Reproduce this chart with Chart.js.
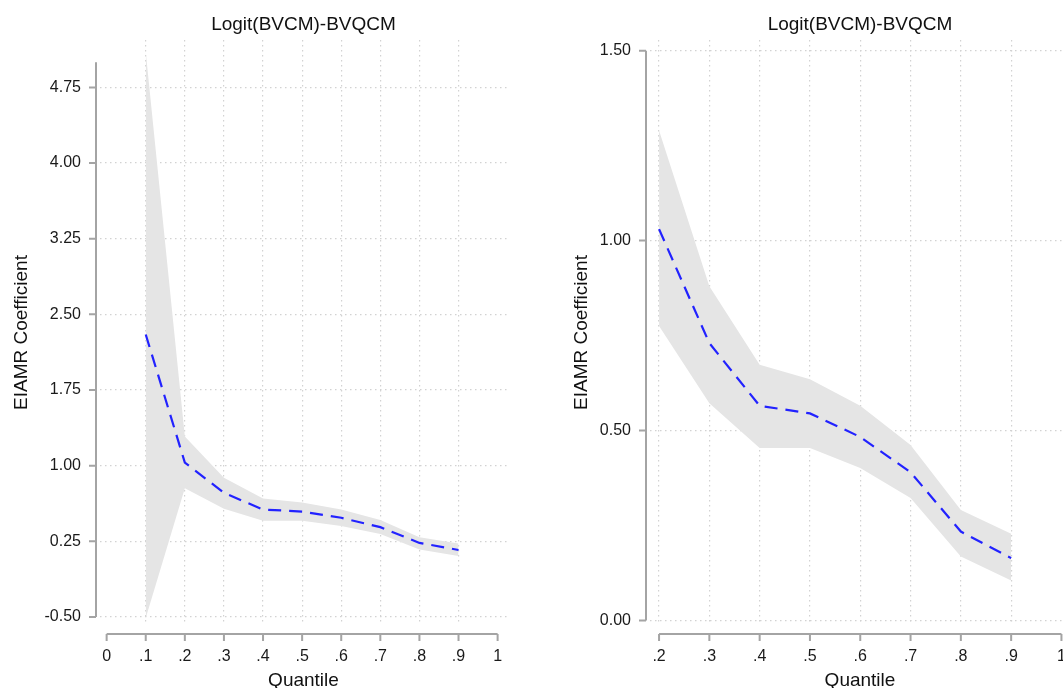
<!DOCTYPE html>
<html>
<head>
<meta charset="utf-8">
<script src="https://cdn.jsdelivr.net/npm/chart.js@4.4.0/dist/chart.umd.min.js"></script>
<style>
  html, body { margin:0; padding:0; background:#fff; overflow:hidden; width:1063px; height:688px; }
  .panel { position:absolute; top:0; }
</style>
</head>
<body>
<div class="panel" style="left:0px"><canvas id="left" width="530" height="688"></canvas></div>
<div class="panel" style="left:545px"><canvas id="right" width="545" height="688"></canvas></div>
<script>
// values (same estimates in both panels, right one starts at .2)
const quantiles = [0.1, 0.2, 0.3, 0.4, 0.5, 0.6, 0.7, 0.8, 0.9];
const coef  = [2.30, 1.03, 0.73, 0.565, 0.545, 0.483, 0.39, 0.234, 0.164];
const upper = [5.10, 1.29, 0.88, 0.673, 0.635, 0.565, 0.462, 0.291, 0.228];
const lower = [-0.51, 0.775, 0.572, 0.454, 0.454, 0.401, 0.322, 0.168, 0.105];

const xTicksLeft  = [0, 0.1, 0.2, 0.3, 0.4, 0.5, 0.6, 0.7, 0.8, 0.9, 1];
const yTicksLeft  = [-0.5, 0.25, 1, 1.75, 2.5, 3.25, 4, 4.75];
const xTicksRight = [0.2, 0.3, 0.4, 0.5, 0.6, 0.7, 0.8, 0.9, 1];
const yTicksRight = [0, 0.5, 1, 1.5];

const titleText = 'Logit(BVCM)-BVQCM';
const fontFam = '"Liberation Sans", Arial, Helvetica, sans-serif';
const axisGray = '#a4a4a4';

function pts(ys, from) {
  const out = [];
  for (let i = from; i < quantiles.length; i++) out.push({x: quantiles[i], y: ys[i]});
  return out;
}

function fmtX(v) {
  if (v === 0 || v === 1) return String(v);
  return v.toFixed(1).replace(/^0\./, '.');
}

// Stata-style detached axis lines with outward tick marks
const axisLines = {
  id: 'axisLines',
  afterDraw(chart, args, o) {
    const {ctx, chartArea, scales} = chart;
    const x = scales.x, y = scales.y;
    const ax = chartArea.left - 4;
    const ay = chartArea.bottom + 9;
    ctx.save();
    ctx.strokeStyle = axisGray;
    ctx.lineWidth = 2;
    ctx.beginPath();
    ctx.moveTo(ax, y.getPixelForValue(o.yFrom));
    ctx.lineTo(ax, y.getPixelForValue(o.yTo));
    ctx.moveTo(x.getPixelForValue(o.xFrom), ay);
    ctx.lineTo(x.getPixelForValue(o.xTo), ay);
    y.ticks.forEach(t => {
      const py = y.getPixelForValue(t.value);
      ctx.moveTo(ax - 7, py); ctx.lineTo(ax, py);
    });
    x.ticks.forEach(t => {
      const px = x.getPixelForValue(t.value);
      ctx.moveTo(px, ay); ctx.lineTo(px, ay + 7);
    });
    ctx.stroke();
    ctx.restore();
  }
};

function makeChart(id, p) {
  const ctx = document.getElementById(id).getContext('2d');
  return new Chart(ctx, {
    type: 'line',
    data: {
      datasets: [
        {
          data: pts(coef, p.from),
          borderColor: '#2222ff',
          borderWidth: 2.2,
          borderDash: [13, 8],
          pointRadius: 0,
          fill: false,
          tension: 0
        },
        {
          data: pts(upper, p.from),
          borderWidth: 0,
          borderColor: 'rgba(0,0,0,0)',
          backgroundColor: '#e5e5e5',
          pointRadius: 0,
          fill: '+1',
          tension: 0
        },
        {
          data: pts(lower, p.from),
          borderWidth: 0,
          borderColor: 'rgba(0,0,0,0)',
          pointRadius: 0,
          fill: false,
          tension: 0
        }
      ]
    },
    options: {
      responsive: false,
      animation: false,
      devicePixelRatio: 1,
      layout: { padding: { left: 0, right: p.padRight, top: 0, bottom: 0 } },
      plugins: {
        legend: { display: false },
        tooltip: { enabled: false },
        title: {
          display: true,
          text: titleText,
          fullSize: false,
          color: '#111',
          font: { family: fontFam, size: 19, weight: 'normal', lineHeight: 1 },
          padding: { top: 15, bottom: 6 }
        },
        axisLines: p.axis
      },
      scales: {
        x: {
          type: 'linear',
          min: p.xMin, max: p.xMax,
          afterBuildTicks: s => { s.ticks = p.xTicks.map(v => ({value: v})); },
          afterFit: s => { s.height = 63; },
          ticks: {
            autoSkip: false, maxRotation: 0, padding: 22,
            color: '#1a1a1a',
            font: { family: fontFam, size: 16 },
            callback: v => fmtX(v)
          },
          grid: {
            drawTicks: false,
            lineWidth: 1.2,
            color: c => (c.tick && (c.tick.value === 0 || c.tick.value === 1)) ? 'rgba(0,0,0,0)' : '#d2d2d2'
          },
          border: { display: false, dash: [1.5, 3.5] },
          title: {
            display: true, text: 'Quantile', color: '#111',
            font: { family: fontFam, size: 19, lineHeight: 1 },
            padding: { top: 0, bottom: -2 }
          }
        },
        y: {
          type: 'linear',
          min: p.yMin, max: p.yMax,
          afterBuildTicks: s => { s.ticks = p.yTicks.map(v => ({value: v})); },
          afterFit: s => { s.width = p.yWidth; },
          ticks: {
            padding: 19,
            color: '#1a1a1a',
            font: { family: fontFam, size: 16 },
            callback: v => Number(v).toFixed(2)
          },
          grid: { drawTicks: false, lineWidth: 1.2, color: '#d2d2d2' },
          border: { display: false, dash: [1.5, 3.5] },
          title: {
            display: true, text: 'EIAMR Coefficient', color: '#111',
            font: { family: fontFam, size: 19, lineHeight: 1 },
            padding: { top: p.yTitlePad, bottom: 0 }
          }
        }
      }
    },
    plugins: [axisLines]
  });
}

makeChart('left', {
  from: 0,
  xMin: -0.017, xMax: 1.024,
  yMin: -0.58, yMax: 5.22,
  xTicks: xTicksLeft, yTicks: yTicksLeft,
  yWidth: 100, padRight: 23, yTitlePad: 12.5,
  axis: { xFrom: 0, xTo: 1, yFrom: -0.5, yTo: 5.0 }
});

makeChart('right', {
  from: 1,
  xMin: 0.182, xMax: 1.017,
  yMin: -0.012, yMax: 1.528,
  xTicks: xTicksRight, yTicks: yTicksRight,
  yWidth: 105, padRight: 20, yTitlePad: 27.5,
  axis: { xFrom: 0.2, xTo: 1, yFrom: 0, yTo: 1.5 }
});
</script>
</body>
</html>
